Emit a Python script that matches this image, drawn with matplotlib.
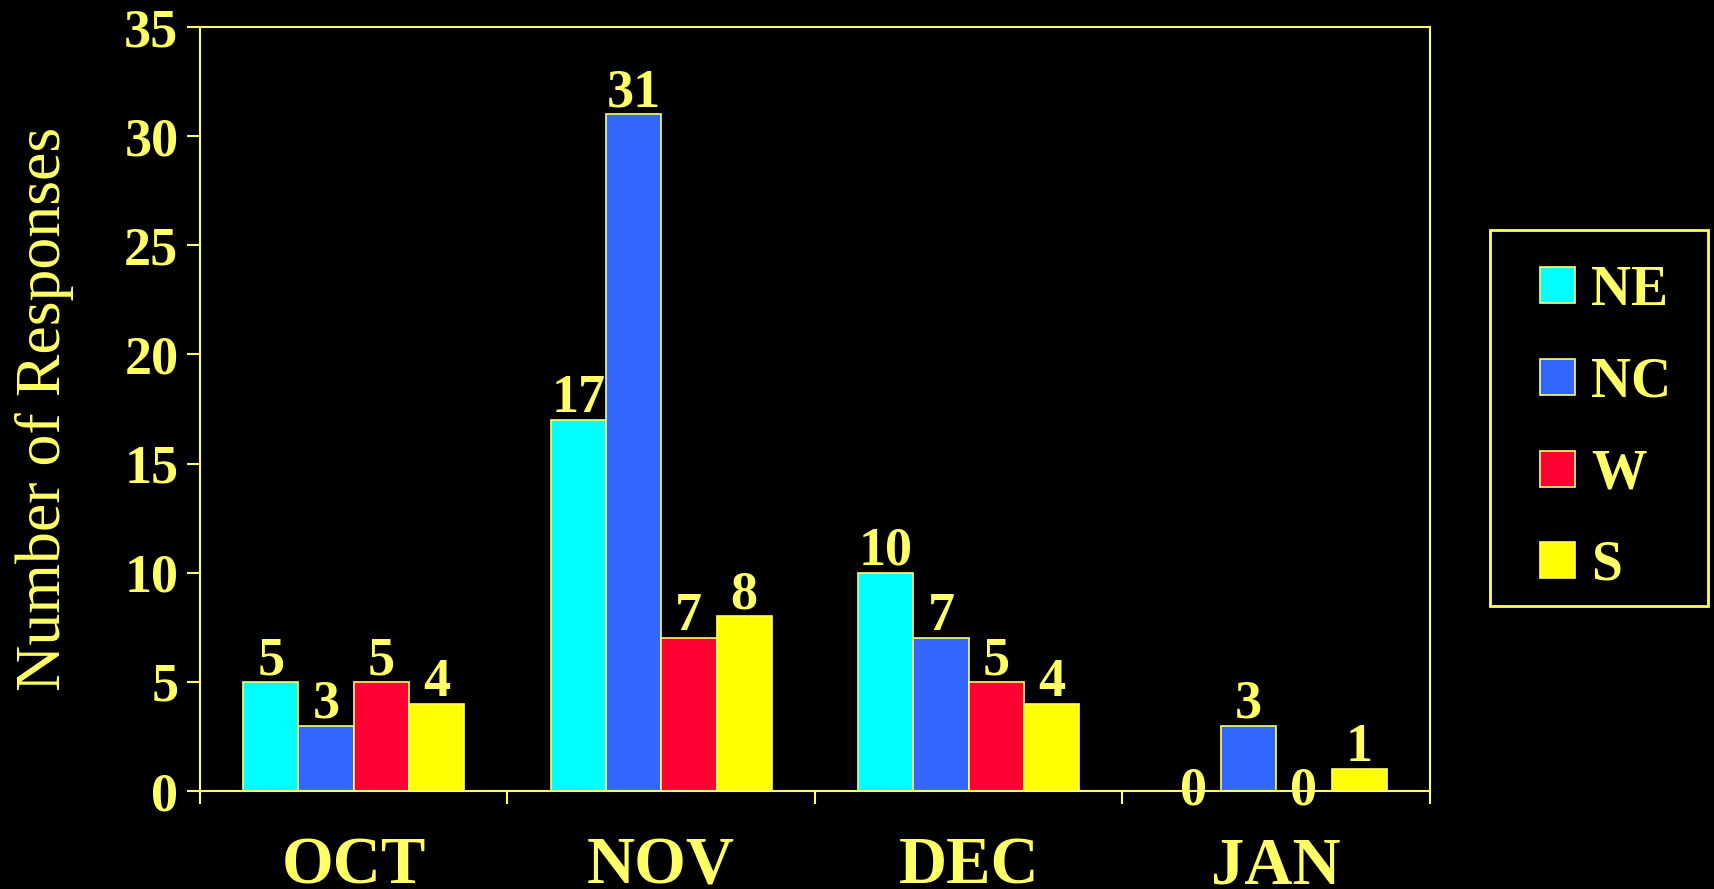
import numpy as np
import matplotlib.pyplot as plt
from matplotlib.patches import Rectangle

# monthly response counts by region
months = ['OCT', 'NOV', 'DEC', 'JAN']
regions = ['NE', 'NC', 'W', 'S']
ne = [5, 17, 10, 0]
nc = [3, 31, 7, 3]
w = [5, 7, 5, 0]
s = [4, 8, 4, 1]
colors = ['#00FFFF', '#3366FF', '#FF0033', '#FFFF00']

txt = '#FFFF66'
plt.rcParams['font.family'] = ['Liberation Serif', 'DejaVu Serif']

fig = plt.figure(figsize=(17.15, 8.89), dpi=100, facecolor='black')
ax = fig.add_axes([0.1166, 0.1102, 0.7172, 0.8594], facecolor='black')

x = np.arange(len(months))
bw = 0.18
for i, (name, vals) in enumerate(zip(regions, [ne, nc, w, s])):
    pos = x + (i - 1.5) * bw
    ax.bar(pos, vals, bw, color=colors[i], edgecolor=txt, linewidth=1.2, label=name)
    for px, v in zip(pos, vals):
        if v == 0:
            ax.text(px, 0, str(v), ha='center', va='center', color=txt,
                    fontsize=39, fontweight='bold')
        else:
            ax.annotate(str(v), (px, v), xytext=(0, -3), textcoords='offset points',
                        ha='center', va='bottom', color=txt, fontsize=39,
                        fontweight='bold')

ax.set_xlim(-0.5, 3.5)
ax.set_ylim(0, 35)
ax.set_yticks(range(0, 36, 5))
ax.set_xticks(x)
ax.set_xticklabels(months)
ax.set_xticks(np.arange(-0.5, 4, 1), minor=True)

for sp in ax.spines.values():
    sp.set_color(txt)
    sp.set_linewidth(1.5)

ax.tick_params(axis='x', which='major', length=0, pad=33, labelsize=48, labelcolor=txt)
ax.tick_params(axis='x', which='minor', length=9.5, width=1.5, color=txt, direction='out')
ax.tick_params(axis='y', length=9.5, width=1.5, color=txt, pad=6, labelsize=39, labelcolor=txt)
for lab in ax.get_xticklabels() + ax.get_yticklabels():
    lab.set_fontweight('bold')

ax.set_ylabel('Number of Responses', color=txt, fontsize=46, labelpad=36)

# legend entries without frame, box drawn separately
leg = ax.legend(loc='center left', bbox_to_anchor=(0.8815, 0.5182), bbox_transform=fig.transFigure,
                frameon=False, prop={'weight': 'bold', 'size': 40}, handlelength=0.63,
                handleheight=0.62, handletextpad=0.3, labelspacing=0.713, borderpad=0)
for t in leg.get_texts():
    t.set_color(txt)
fig.patches.append(Rectangle((0.8688, 0.3183), 0.1271, 0.4229, transform=fig.transFigure,
                             fill=False, edgecolor=txt, linewidth=2))

fig.savefig('out.png', dpi=100, facecolor='black')
